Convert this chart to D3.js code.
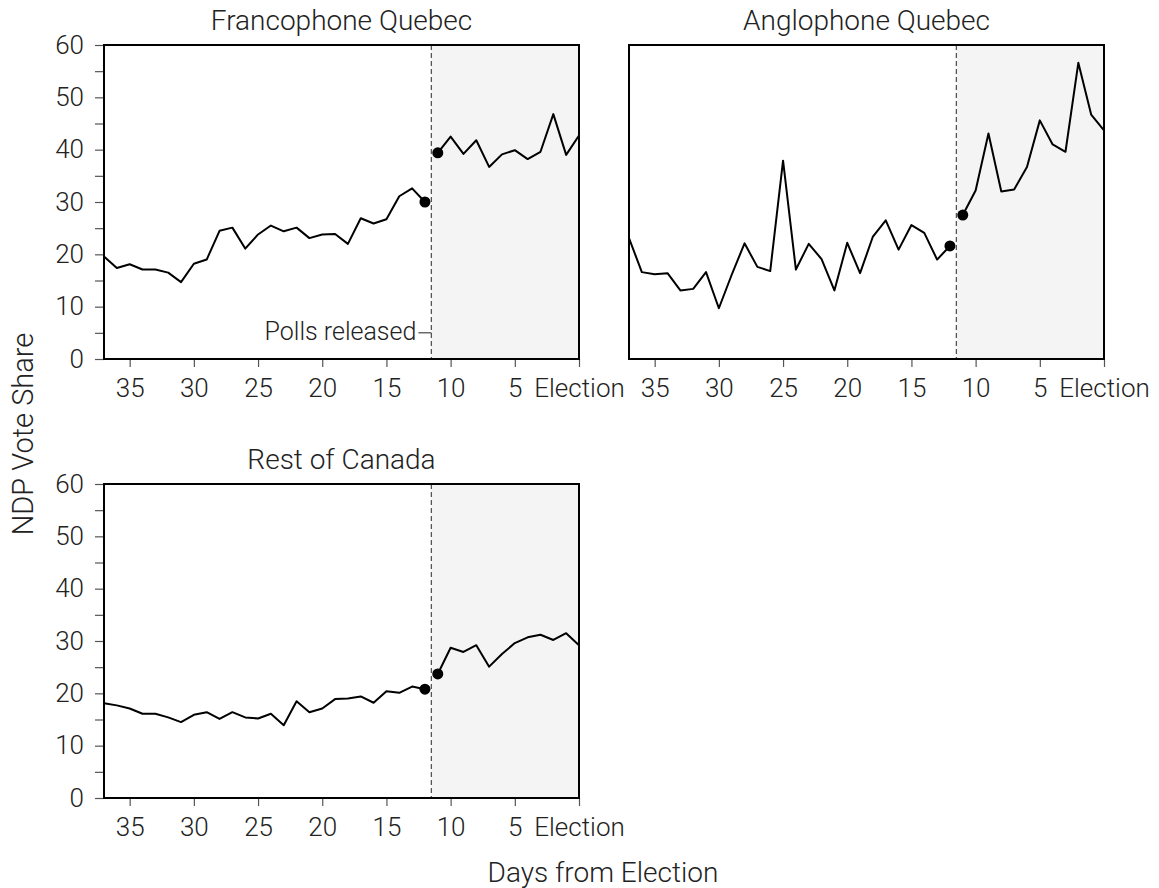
<!DOCTYPE html>
<html>
<head>
<meta charset="utf-8">
<script src="https://cdn.jsdelivr.net/npm/d3@7"></script>
<style>
  body { margin: 0; background: #fff; }
  text { font-family: "Roboto", "Liberation Sans", sans-serif; font-weight: 300; fill: #222; }
</style>
</head>
<body>
<div class="chart"></div>
<script>
// days before the election, 37 down to 0
var days = d3.range(37, -1, -1);

var francophone = [19.6, 17.4, 18.1, 17.1, 17.1, 16.5, 14.7, 18.2, 19.0, 24.5, 25.1, 21.1, 23.8,
  25.5, 24.4, 25.1, 23.1, 23.8, 23.9, 22.0, 26.9, 25.9, 26.7, 31.1, 32.6, 30.0,
  39.4, 42.5, 39.2, 41.8, 36.7, 39.1, 39.9, 38.2, 39.6, 46.8, 39.0, 42.7];

var anglophone = [23.1, 16.6, 16.2, 16.4, 13.1, 13.4, 16.6, 9.7, 16.1, 22.1, 17.6, 16.8, 37.9,
  17.1, 22.0, 19.1, 13.1, 22.2, 16.4, 23.4, 26.5, 20.9, 25.6, 24.1, 19.0, 21.6,
  27.5, 32.2, 43.1, 32.0, 32.4, 36.7, 45.6, 41.0, 39.6, 56.6, 46.7, 43.7];

var restOfCanada = [18.1, 17.7, 17.1, 16.1, 16.1, 15.4, 14.5, 15.9, 16.4, 15.1, 16.4, 15.4, 15.2,
  16.1, 13.9, 18.5, 16.4, 17.1, 18.9, 19.0, 19.4, 18.2, 20.4, 20.1, 21.3, 20.8,
  23.7, 28.7, 27.9, 29.2, 25.1, 27.5, 29.6, 30.7, 31.2, 30.2, 31.5, 29.2];

var xTicks = [35, 30, 25, 20, 15, 10, 5, 0];
var yTicks = [0, 10, 20, 30, 40, 50, 60];
var yMinor = [5, 15, 25, 35, 45, 55];
var releaseDay = 11.5;

var panels = [
  { title: "Francophone Quebec", values: francophone, left: 104, top: 45, yLabels: true, note: true },
  { title: "Anglophone Quebec", values: anglophone, left: 629, top: 45, yLabels: false, note: false },
  { title: "Rest of Canada", values: restOfCanada, left: 104, top: 484, yLabels: true, note: false }
];

var pw = 475, ph = 314;

var svg = d3.select(".chart").append("svg")
  .attr("width", 1159)
  .attr("height", 888);

var x = d3.scaleLinear().domain([37, 0]).range([0, pw]);
var y = d3.scaleLinear().domain([0, 60]).range([ph, 0]);

var line = d3.line()
  .x(function (d) { return x(d.day); })
  .y(function (d) { return y(d.v); });

panels.forEach(function (p) {
  var g = svg.append("g").attr("transform", "translate(" + p.left + "," + p.top + ")");
  var pts = days.map(function (d, i) { return { day: d, v: p.values[i] }; });
  var before = pts.filter(function (d) { return d.day > releaseDay; });
  var after = pts.filter(function (d) { return d.day < releaseDay; });

  // shaded post-release region
  g.append("rect")
    .attr("x", x(releaseDay))
    .attr("y", 0)
    .attr("width", x(0) - x(releaseDay))
    .attr("height", ph)
    .attr("fill", "#f4f4f4");

  g.append("line")
    .attr("x1", x(releaseDay)).attr("x2", x(releaseDay))
    .attr("y1", 0).attr("y2", ph)
    .attr("stroke", "#555")
    .attr("stroke-width", 1.3)
    .attr("stroke-dasharray", "5,3");

  [before, after].forEach(function (seg) {
    g.append("path")
      .datum(seg)
      .attr("d", line)
      .attr("fill", "none")
      .attr("stroke", "#000")
      .attr("stroke-width", 2)
      .attr("stroke-linejoin", "round");
  });

  g.selectAll("circle")
    .data([before[before.length - 1], after[0]])
    .enter()
    .append("circle")
    .attr("cx", function (d) { return x(d.day); })
    .attr("cy", function (d) { return y(d.v); })
    .attr("r", 5.5)
    .attr("fill", "#000");

  // x axis
  var xa = g.append("g")
    .attr("transform", "translate(0," + ph + ")")
    .call(d3.axisBottom(x).tickValues(xTicks).tickSize(8).tickPadding(12)
      .tickFormat(function (d) { return d === 0 ? "Election" : d; }));
  xa.select(".domain").remove();
  xa.selectAll(".tick line").attr("stroke", "#555").attr("stroke-width", 1.2);
  xa.selectAll("text").style("font-size", "26px").attr("fill", "#222");

  if (p.yLabels) {
    var ya = g.append("g")
      .call(d3.axisLeft(y).tickValues(yTicks).tickSize(9).tickPadding(11));
    ya.select(".domain").remove();
    ya.selectAll(".tick line").attr("stroke", "#555").attr("stroke-width", 1.2);
    ya.selectAll("text").style("font-size", "26px").attr("fill", "#222");

    g.append("g")
      .call(d3.axisLeft(y).tickValues(yMinor).tickSize(9).tickFormat(""))
      .call(function (a) { a.select(".domain").remove(); })
      .selectAll(".tick line").attr("stroke", "#555").attr("stroke-width", 1.2);
  }

  // frame
  g.append("rect")
    .attr("width", pw)
    .attr("height", ph)
    .attr("fill", "none")
    .attr("stroke", "#000")
    .attr("stroke-width", 2);

  g.append("text")
    .attr("x", pw / 2)
    .attr("y", -15)
    .attr("text-anchor", "middle")
    .style("font-size", "28px")
    .text(p.title);

  if (p.note) {
    g.append("line")
      .attr("x1", x(releaseDay) - 13).attr("x2", x(releaseDay))
      .attr("y1", y(5)).attr("y2", y(5))
      .attr("stroke", "#222")
      .attr("stroke-width", 1);
    g.append("text")
      .attr("x", x(releaseDay) - 15)
      .attr("y", y(5) + 7)
      .attr("text-anchor", "end")
      .style("font-size", "25px")
      .text("Polls released");
  }
});

svg.append("text")
  .attr("transform", "translate(33,434) rotate(-90)")
  .attr("text-anchor", "middle")
  .style("font-size", "29px")
  .text("NDP Vote Share");

svg.append("text")
  .attr("x", 603)
  .attr("y", 882)
  .attr("text-anchor", "middle")
  .style("font-size", "28px")
  .text("Days from Election");
</script>
</body>
</html>
